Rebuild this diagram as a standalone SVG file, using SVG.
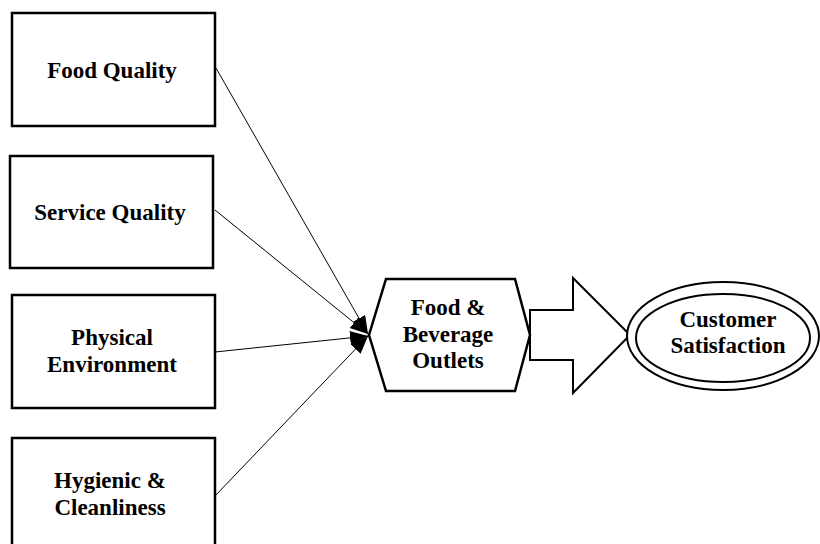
<svg xmlns="http://www.w3.org/2000/svg" width="820" height="544" viewBox="0 0 820 544">
<style>
.box{fill:#fff;stroke:#000;stroke-width:2.5}
.t{font-family:"Liberation Serif","Times New Roman",serif;font-weight:bold;font-size:23px;text-anchor:middle;fill:#000}
.c{stroke:#000;stroke-width:1;fill:none}
</style>
<defs>
<marker id="ah" markerUnits="userSpaceOnUse" markerWidth="20" markerHeight="16" refX="18" refY="7" orient="auto">
<path d="M0,0 L18,7 L0,14 z" fill="#000"/>
</marker>
</defs>
<rect width="820" height="544" fill="#fff"/>
<g id="connectors">
<line class="c" x1="216" y1="68" x2="368" y2="334" marker-end="url(#ah)"/>
<line class="c" x1="215" y1="210" x2="368" y2="334" marker-end="url(#ah)"/>
<line class="c" x1="215" y1="352" x2="368" y2="336" marker-end="url(#ah)"/>
<line class="c" x1="215" y1="496" x2="368" y2="336" marker-end="url(#ah)"/>
<path id="bigarrow" d="M530,310 L573,310 L573,278 L630,335 L573,393 L573,360 L530,360 Z" fill="#fff" stroke="#000" stroke-width="2"/>
</g>
<g id="food-quality">
<rect class="box" x="12" y="13" width="203" height="113"/>
<text class="t" x="112" y="78">Food Quality</text>
</g>
<g id="service-quality">
<rect class="box" x="10" y="156" width="203" height="112"/>
<text class="t" x="110" y="220">Service Quality</text>
</g>
<g id="physical-environment">
<rect class="box" x="12" y="295" width="203" height="113"/>
<text class="t" x="112" y="345">Physical</text>
<text class="t" x="112" y="372">Environment</text>
</g>
<g id="hygienic-cleanliness">
<rect class="box" x="12" y="438" width="203" height="120"/>
<text class="t" x="110" y="488">Hygienic &amp;</text>
<text class="t" x="110" y="515">Cleanliness</text>
</g>
<g id="fb-outlets">
<polygon class="box" points="386,279 515,279 530,335 515,391 386,391 369,335"/>
<text class="t" x="448" y="315">Food &amp;</text>
<text class="t" x="448" y="342">Beverage</text>
<text class="t" x="448" y="368">Outlets</text>
</g>
<g id="customer-satisfaction">
<ellipse cx="723" cy="336" rx="96" ry="54" fill="#fff" stroke="#000" stroke-width="2"/>
<ellipse cx="723" cy="338" rx="87" ry="44" fill="#fff" stroke="#000" stroke-width="2"/>
<text class="t" x="728" y="327">Customer</text>
<text class="t" x="728" y="353">Satisfaction</text>
</g>
</svg>
